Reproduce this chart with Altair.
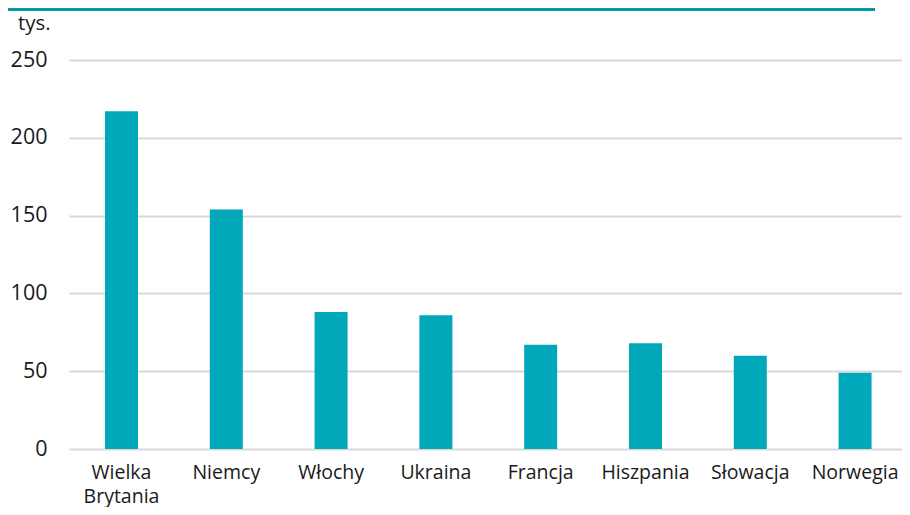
import altair as alt
import pandas as pd

countries = ["Wielka Brytania", "Niemcy", "Włochy", "Ukraina", "Francja", "Hiszpania", "Słowacja", "Norwegia"]
values = [217, 154, 88, 86, 67, 68, 60, 49]
y_ticks = [0, 50, 100, 150, 200, 250]
unit_label = "tys."

df = pd.DataFrame({"kraj": countries, "wartosc": values})

FONT = "Open Sans"
W, H = 833, 389

bars = alt.Chart(df).mark_bar(color="#00A8B9").encode(
    x=alt.X("kraj:N", sort=countries, title=None,
            scale=alt.Scale(paddingInner=0.685, paddingOuter=0.3168, align=0.542),
            axis=alt.Axis(labelAngle=0, labelFontSize=19.5, labelFont=FONT, labelColor="#1a1a1a",
                          labelPadding=29, labelBaseline="alphabetic", labelLineHeight=24,
                          labelExpr="datum.label == 'Wielka Brytania' ? ['Wielka', 'Brytania'] : datum.label",
                          domain=False, ticks=False, grid=False)),
    y=alt.Y("wartosc:Q", title=None,
            scale=alt.Scale(domain=[0, 250], nice=False),
            axis=alt.Axis(values=y_ticks, labelFontSize=21.5, labelFont=FONT, labelColor="#1a1a1a",
                          labelPadding=22, domain=False, ticks=False,
                          grid=True, gridColor="#d9d9d9", gridWidth=2)),
)

unit = alt.Chart(pd.DataFrame({"t": [unit_label]})).mark_text(
    align="left", baseline="alphabetic", fontSize=20.5, font=FONT, color="#1a1a1a"
).encode(text="t:N", x=alt.value(-51), y=alt.value(-30))

topline = alt.Chart(pd.DataFrame({"a": [0]})).mark_rule(color="#0399A8", strokeWidth=3).encode(
    x=alt.value(-61), x2=alt.value(806), y=alt.value(-50.5)
)

chart = alt.layer(bars, unit, topline).properties(
    width=W, height=H,
    autosize=alt.AutoSizeParams(type="none"),
    padding={"left": 61, "top": 52, "right": 0, "bottom": 58},
).configure_view(stroke=None)

chart.save("out.html", embed_options={"renderer": "svg", "actions": False})
